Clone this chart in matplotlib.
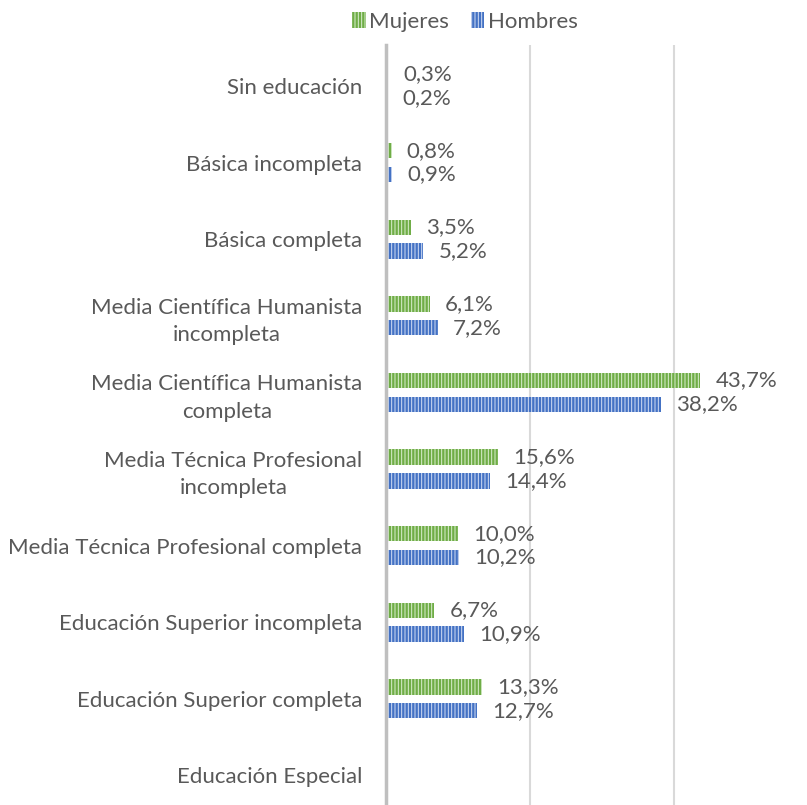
import numpy as np
import matplotlib.pyplot as plt

categorias = ["Sin educación", "Básica incompleta", "Básica completa",
              "Media Científica Humanista\nincompleta",
              "Media Científica Humanista\ncompleta",
              "Media Técnica Profesional\nincompleta",
              "Media Técnica Profesional completa",
              "Educación Superior incompleta",
              "Educación Superior completa",
              "Educación Especial"]
mujeres = [0.3, 0.8, 3.5, 6.1, 43.7, 15.6, 10.0, 6.7, 13.3, np.nan]
hombres = [0.2, 0.9, 5.2, 7.2, 38.2, 14.4, 10.2, 10.9, 12.7, np.nan]

verde = "#70AD47"
azul = "#4472C4"
gris_txt = "#595959"


def fmt(v):
    return f"{v:.1f}%".replace(".", ",")


def main():
    plt.rcParams['font.family'] = ['Lato', 'DejaVu Sans']
    plt.rcParams['hatch.linewidth'] = 0.7
    fig = plt.figure(figsize=(8.07, 8.05), dpi=100)
    ax = fig.add_axes([386 / 807, 0, 1 - 386 / 807, 1 - 45 / 805])

    y = np.arange(len(categorias))
    h = 0.2
    off = 0.155
    b1 = ax.barh(y - off, mujeres, height=h, color=verde, edgecolor="#dcefd2",
                 hatch="|||||", linewidth=0, label="Mujeres", zorder=3)
    b2 = ax.barh(y + off, hombres, height=h, color=azul, edgecolor="#d3def4",
                 hatch="|||||", linewidth=0, label="Hombres", zorder=3)

    for yy, v in zip(y - off, mujeres):
        if not np.isnan(v):
            ax.text(v + 2.1, yy, fmt(v), va="center", ha="left",
                    fontsize=16, color=gris_txt)
    for yy, v in zip(y + off, hombres):
        if not np.isnan(v):
            ax.text(v + 2.1, yy, fmt(v), va="center", ha="left",
                    fontsize=16, color=gris_txt)

    ax.set_xlim(0, 58.5)
    ax.set_ylim(9.386, -0.535)
    ax.set_yticks(y)
    ax.set_yticklabels(categorias, fontsize=16, color=gris_txt,
                       multialignment="center", linespacing=1.45)
    ax.tick_params(axis="y", length=0, pad=17)
    ax.set_xticks([0, 20, 40])
    ax.tick_params(axis="x", length=0, labelbottom=False)
    ax.grid(axis="x", color="#D9D9D9", linewidth=1.5, zorder=0)
    for s in ["top", "right", "bottom"]:
        ax.spines[s].set_visible(False)
    ax.spines["left"].set_color("#BFBFBF")
    ax.spines["left"].set_linewidth(2.5)
    ax.spines["left"].set_zorder(4)

    fig.legend(handles=[b1, b2], loc="center", bbox_to_anchor=(465 / 807, 1 - 22 / 805),
               ncol=2, frameon=False, fontsize=16, handlelength=0.6,
               handleheight=0.7, handletextpad=0.15, columnspacing=1.0,
               labelcolor=gris_txt)

    fig.savefig("out.png", dpi=100)


if __name__ == "__main__":
    main()
